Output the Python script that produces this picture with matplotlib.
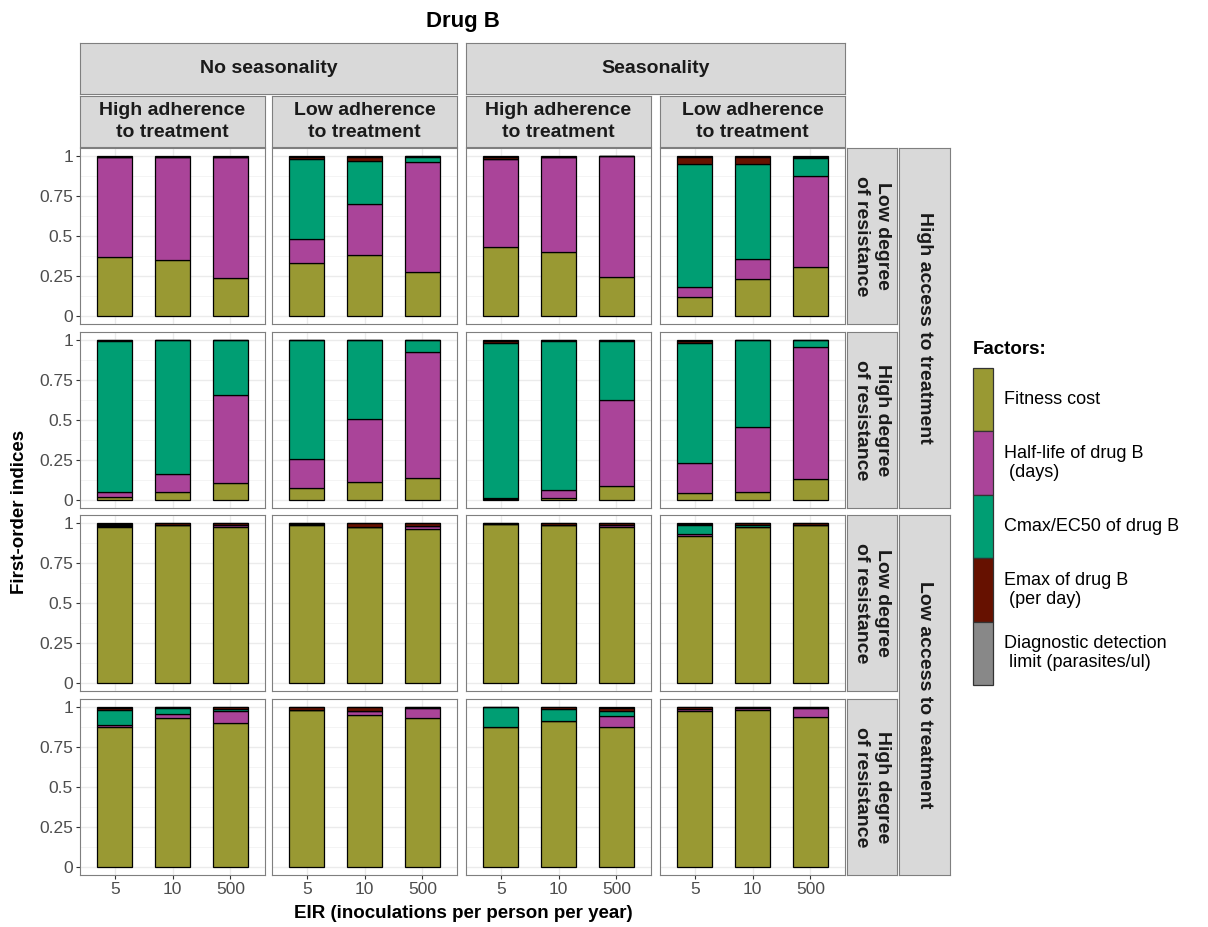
import matplotlib
matplotlib.use("Agg")
import matplotlib.pyplot as plt
from matplotlib.patches import Rectangle
import numpy as np

plt.rcParams['font.family'] = ['Liberation Sans', 'DejaVu Sans']

# ---- data: rows of the facet grid, 12 bars each (4 columns x EIR 5/10/500) ----
eir_labels = ["5", "10", "500"]
season_labels = ["No seasonality", "Seasonality"]
adherence_labels = ["High adherence\nto treatment", "Low adherence\nto treatment"]
resistance_labels = ["Low degree\nof resistance", "High degree\nof resistance"]
access_labels = ["High access to treatment", "Low access to treatment"]
factor_labels = ["Fitness cost", "Half-life of drug B\n (days)", "Cmax/EC50 of drug B",
                 "Emax of drug B\n (per day)", "Diagnostic detection\n limit (parasites/ul)"]
factor_colors = ["#999933", "#AA4499", "#009E73", "#661100", "#888888"]

fitness_cost = [
    [.370, .350, .240, .333, .383, .273, .429, .398, .244, .118, .232, .306],
    [.020, .050, .104, .073, .110, .135, .005, .015, .088, .042, .048, .131],
    [.975, .990, .973, .985, .975, .964, .995, .990, .973, .921, .975, .985],
    [.872, .934, .903, .980, .948, .931, .872, .913, .872, .975, .980, .937],
]
half_life = [
    [.625, .645, .755, .149, .315, .690, .554, .597, .753, .064, .124, .570],
    [.028, .113, .552, .185, .396, .788, .007, .048, .537, .187, .406, .827],
    [.005, .000, .015, .000, .000, .015, .000, .000, .015, .008, .000, .000],
    [.018, .021, .070, .000, .027, .064, .000, .000, .070, .015, .015, .058],
]
cmax_ec50 = [
    [.000, .000, .000, .497, .269, .031, .000, .000, .000, .770, .592, .112],
    [.948, .835, .344, .742, .494, .077, .968, .931, .371, .751, .546, .042],
    [.005, .000, .000, .010, .000, .000, .000, .000, .000, .056, .015, .000],
    [.090, .039, .017, .000, .000, .000, .125, .075, .033, .000, .000, .000],
]
emax = [
    [.000, .000, .000, .016, .028, .003, .012, .000, .000, .043, .047, .007],
    [.004, .002, .000, .000, .000, .000, .015, .006, .004, .015, .000, .000],
    [.010, .010, .012, .005, .025, .021, .005, .010, .012, .010, .010, .015],
    [.015, .006, .010, .020, .025, .005, .003, .012, .020, .010, .005, .005],
]
diagnostic = [
    [.005, .005, .005, .005, .005, .003, .005, .005, .003, .005, .005, .005],
    [.000, .000, .000, .000, .000, .000, .005, .000, .000, .005, .000, .000],
    [.005, .000, .000, .000, .000, .000, .000, .000, .000, .005, .000, .000],
    [.005, .000, .000, .000, .000, .000, .000, .000, .005, .000, .000, .000],
]
factors = [fitness_cost, half_life, cmax_ec50, emax, diagnostic]

# ---- layout in pixels ----
W, H = 1208, 927
fig = plt.figure(figsize=(W / 100, H / 100), dpi=100)


def fbox(x0, y0, x1, y1):
    return [x0 / W, 1 - y1 / H, (x1 - x0) / W, (y1 - y0) / H]


col_x = [80, 272, 466, 660]
pw = 185
row_y = [148, 332, 515, 699]
ph = 176
strip_grey = "#D9D9D9"
border = "#7F7F7F"


def strip(x0, y0, x1, y1, text, rot=0):
    ax = fig.add_axes(fbox(x0, y0, x1, y1))
    ax.set_facecolor(strip_grey)
    ax.set_xticks([])
    ax.set_yticks([])
    for s in ax.spines.values():
        s.set_color(border)
        s.set_linewidth(0.8)
    ax.text(0.5, 0.5, text, ha="center", va="center", rotation=rot,
            fontsize=14, fontweight="bold", color="#1A1A1A",
            linespacing=1.35, transform=ax.transAxes)


xpos = np.arange(3)
for r in range(4):
    for c in range(4):
        ax = fig.add_axes(fbox(col_x[c], row_y[r], col_x[c] + pw, row_y[r] + ph))
        bottom = np.zeros(3)
        for f, col in zip(factors, factor_colors):
            vals = np.array(f[r][c * 3:(c + 1) * 3])
            ax.bar(xpos, vals, 0.6, bottom=bottom, color=col,
                   edgecolor="black", linewidth=0.9, zorder=3)
            bottom += vals
        ax.set_xlim(-0.6, 2.6)
        ax.set_ylim(-0.05, 1.05)
        ax.set_yticks([0, 0.25, 0.5, 0.75, 1])
        ax.set_yticks([0.125, 0.375, 0.625, 0.875], minor=True)
        ax.set_xticks(xpos)
        ax.grid(True, which="major", color="#EBEBEB", linewidth=1.0, zorder=0)
        ax.grid(True, which="minor", axis="y", color="#F2F2F2", linewidth=0.6, zorder=0)
        ax.tick_params(which="minor", length=0)
        ax.tick_params(which="major", length=3, color="#333333", width=0.8,
                       labelsize=12.5, labelcolor="#4D4D4D", pad=2)
        for s in ax.spines.values():
            s.set_color(border)
            s.set_linewidth(0.8)
        if c == 0:
            ax.set_yticklabels(["0", "0.25", "0.5", "0.75", "1"])
        else:
            ax.tick_params(axis="y", labelleft=False, length=0)
        if r == 3:
            ax.set_xticklabels(eir_labels)
        else:
            ax.tick_params(axis="x", labelbottom=False, length=0)

# top strips
for i, lab in enumerate(season_labels):
    strip(col_x[2 * i], 43, col_x[2 * i + 1] + pw, 94, lab)
for c in range(4):
    strip(col_x[c], 96, col_x[c] + pw, 147, adherence_labels[c % 2])
# right strips
for r in range(4):
    strip(847, row_y[r], 897, row_y[r] + ph, resistance_labels[r % 2], rot=-90)
for i, lab in enumerate(access_labels):
    strip(899, row_y[2 * i], 950, row_y[2 * i + 1] + ph, lab, rot=-90)

# titles
fig.text(463 / W, 1 - 21 / H, "Drug B", ha="center", va="center",
         fontsize=16, fontweight="bold")
fig.text(463 / W, 1 - 913 / H, "EIR (inoculations per person per year)",
         ha="center", va="center", fontsize=13.5, fontweight="bold")
fig.text(20 / W, 1 - 512 / H, "First-order indices", ha="center", va="center",
         rotation=90, fontsize=13.5, fontweight="bold")

# legend
fig.text(973 / W, 1 - 349 / H, "Factors:", ha="left", va="center",
         fontsize=13.5, fontweight="bold")
key_top = 368
key_h = 63.4
for i, (lab, col) in enumerate(zip(factor_labels, factor_colors)):
    y0 = key_top + i * key_h
    fig.add_artist(Rectangle((973 / W, 1 - (y0 + key_h) / H), 20 / W, key_h / H,
                             facecolor=col, edgecolor="#333333", linewidth=0.9,
                             transform=fig.transFigure))
    fig.text(1004 / W, 1 - (y0 + key_h / 2) / H, lab, ha="left", va="center",
             fontsize=13, linespacing=1.15)

fig.savefig("out.png", dpi=100, facecolor="white")
